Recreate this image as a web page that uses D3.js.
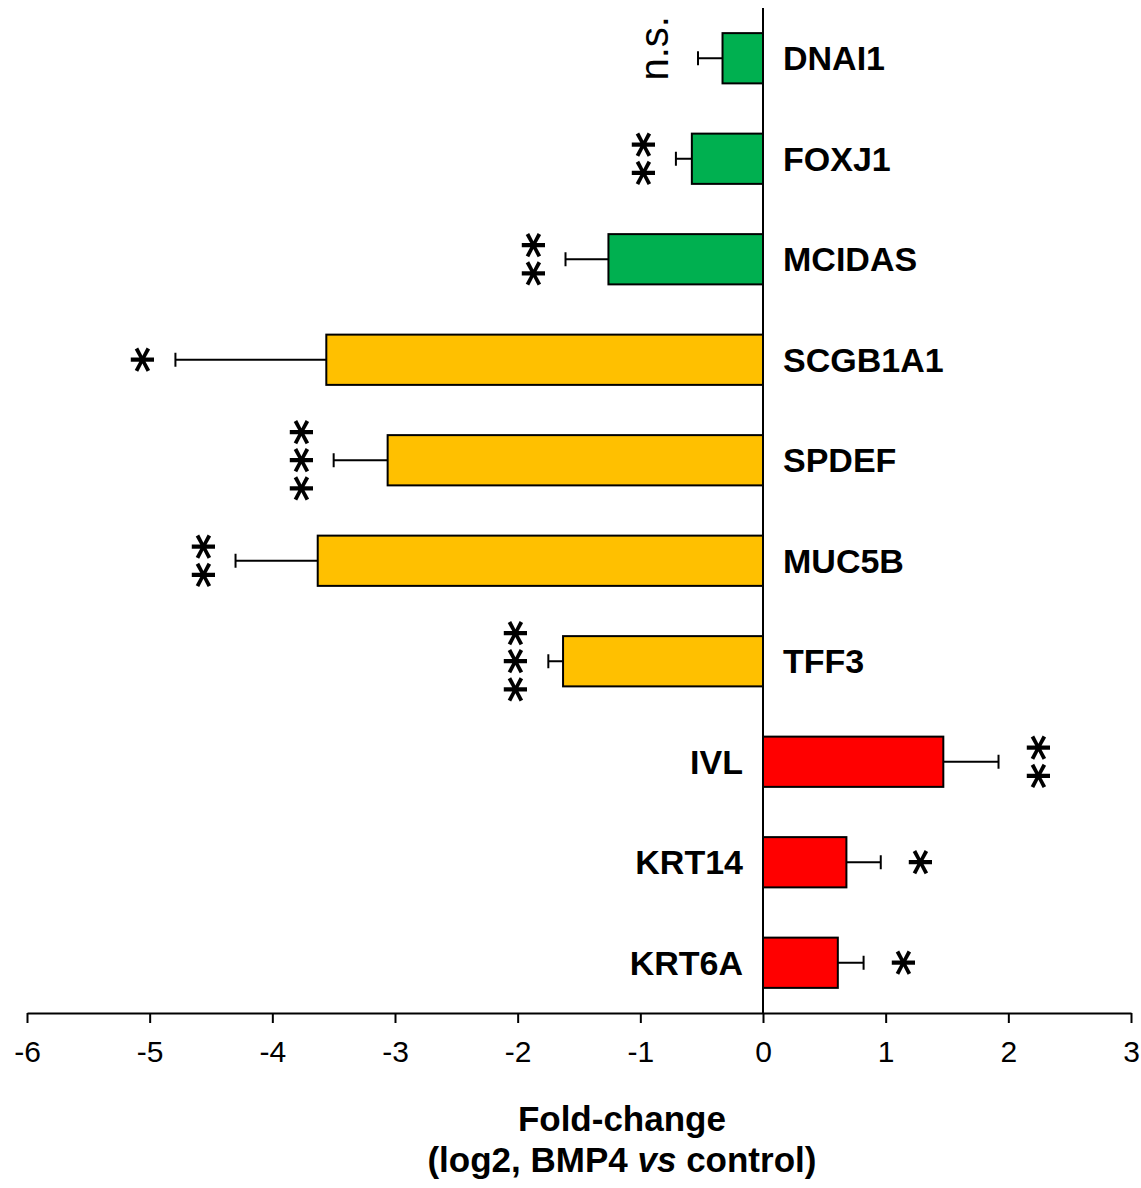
<!DOCTYPE html>
<html>
<head>
<meta charset="utf-8">
<script src="https://cdn.jsdelivr.net/npm/d3@7"></script>
<style>
  body { margin: 0; background: #fff; }
  text { font-family: Arial, "Liberation Sans", sans-serif; }
</style>
</head>
<body>
<div id="chart"></div>
<script>
(function(){
    var width = 1141,
        height = 1188;

    // data
    var genes = ["DNAI1", "FOXJ1", "MCIDAS", "SCGB1A1", "SPDEF", "MUC5B", "TFF3", "IVL", "KRT14", "KRT6A"];
    var foldChange = [-0.33, -0.58, -1.26, -3.56, -3.06, -3.63, -1.63, 1.47, 0.68, 0.61];
    var errors = [0.20, 0.13, 0.35, 1.23, 0.44, 0.67, 0.12, 0.45, 0.28, 0.21];
    var signif = ["n.s.", "**", "**", "*", "***", "**", "***", "**", "*", "*"];
    var groups = ["cilia", "cilia", "cilia", "secretory", "secretory", "secretory", "secretory", "squamous", "squamous", "squamous"];
    var ticks = [-6, -5, -4, -3, -2, -1, 0, 1, 2, 3];

    var colors = { cilia: "#00b050", secretory: "#ffc000", squamous: "#ff0000" };

    var data = genes.map(function(g, i){
        return { gene: g, value: foldChange[i], err: errors[i], sig: signif[i], group: groups[i] };
    });

    var svg = d3.select("#chart")
        .append("svg")
        .attr("width", width)
        .attr("height", height);

    var x = d3.scaleLinear().domain([-6, 3]).range([27, 1131]);
    var y = d3.scaleBand().domain(genes).range([8, 1013]).paddingInner(0.5).paddingOuter(0.25);

    var axisY = 1013;

    // x axis
    var xAxis = svg.append("g")
        .attr("transform", "translate(0," + axisY + ")")
        .call(d3.axisBottom(x).tickValues(ticks).tickSize(10).tickSizeOuter(0).tickPadding(18)
            .tickFormat(function(d){ return String(d); }));
    xAxis.select(".domain").attr("stroke", "#000").attr("stroke-width", 2);
    xAxis.selectAll(".tick line").attr("stroke", "#000").attr("stroke-width", 2);
    xAxis.selectAll(".tick text")
        .attr("fill", "#000")
        .style("font-size", "30px")
        .style("font-family", "Arial, 'Liberation Sans', sans-serif");

    // bars
    svg.selectAll(".bar")
        .data(data)
        .enter().append("rect")
        .attr("class", "bar")
        .attr("x", function(d){ return x(Math.min(0, d.value)); })
        .attr("y", function(d){ return y(d.gene); })
        .attr("width", function(d){ return Math.abs(x(d.value) - x(0)); })
        .attr("height", y.bandwidth())
        .attr("fill", function(d){ return colors[d.group]; })
        .attr("stroke", "#000")
        .attr("stroke-width", 2);

    // error bars
    var errEnd = function(d){ return d.value < 0 ? d.value - d.err : d.value + d.err; };
    var eb = svg.selectAll(".err")
        .data(data)
        .enter().append("g")
        .attr("class", "err");
    eb.append("line")
        .attr("x1", function(d){ return x(d.value); })
        .attr("x2", function(d){ return x(errEnd(d)); })
        .attr("y1", function(d){ return y(d.gene) + y.bandwidth() / 2; })
        .attr("y2", function(d){ return y(d.gene) + y.bandwidth() / 2; })
        .attr("stroke", "#000").attr("stroke-width", 2);
    eb.append("line")
        .attr("x1", function(d){ return x(errEnd(d)); })
        .attr("x2", function(d){ return x(errEnd(d)); })
        .attr("y1", function(d){ return y(d.gene) + y.bandwidth() / 2 - 7; })
        .attr("y2", function(d){ return y(d.gene) + y.bandwidth() / 2 + 7; })
        .attr("stroke", "#000").attr("stroke-width", 2);

    // zero line
    svg.append("line")
        .attr("x1", x(0)).attr("x2", x(0))
        .attr("y1", 8).attr("y2", axisY)
        .attr("stroke", "#000").attr("stroke-width", 2);

    // gene labels
    svg.selectAll(".gene-label")
        .data(data)
        .enter().append("text")
        .attr("class", "gene-label")
        .attr("x", function(d){ return d.value < 0 ? x(0) + 20 : x(0) - 20; })
        .attr("y", function(d){ return y(d.gene) + y.bandwidth() / 2; })
        .attr("dy", "0.36em")
        .attr("text-anchor", function(d){ return d.value < 0 ? "start" : "end"; })
        .style("font-size", "34px")
        .style("font-weight", "bold")
        .text(function(d){ return d.gene; });

    // significance marks, written as rotated text like the original
    var starSize = 50;
    svg.selectAll(".sig")
        .data(data)
        .enter().append("text")
        .attr("class", "sig")
        .attr("transform", function(d){
            var cy = y(d.gene) + y.bandwidth() / 2;
            var dir = d.value < 0 ? -1 : 1;
            var ex = x(errEnd(d));
            if (d.sig === "n.s.") {
                return "translate(" + (ex + dir * 2 - 28) + "," + (cy - 10) + ") rotate(-90)";
            }
            var cx = ex + dir * 36;
            return "translate(" + (cx + starSize * 0.58) + "," + cy + ") rotate(-90)";
        })
        .attr("text-anchor", "middle")
        .attr("dx", function(d){ return d.sig === "n.s." ? 0 : 1; })
        .style("font-family", function(d){ return d.sig === "n.s." ? null : "'DejaVu Sans', sans-serif"; })
        .style("font-size", function(d){ return d.sig === "n.s." ? "40px" : starSize + "px"; })
        .style("font-weight", function(d){ return d.sig === "n.s." ? "normal" : "bold"; })
        .style("letter-spacing", function(d){ return d.sig === "n.s." ? null : "2px"; })
        .text(function(d){ return d.sig; });

    // axis title
    var title = svg.append("text")
        .attr("x", x(-1.15))
        .attr("y", 1131)
        .attr("text-anchor", "middle")
        .style("font-size", "35px")
        .style("font-weight", "bold");
    title.append("tspan").text("Fold-change");
    var t2 = svg.append("text")
        .attr("x", x(-1.15))
        .attr("y", 1172)
        .attr("text-anchor", "middle")
        .style("font-size", "35px")
        .style("font-weight", "bold");
    t2.append("tspan").text("(log2, BMP4 ");
    t2.append("tspan").style("font-style", "italic").text("vs");
    t2.append("tspan").text(" control)");
})();
</script>
</body>
</html>
